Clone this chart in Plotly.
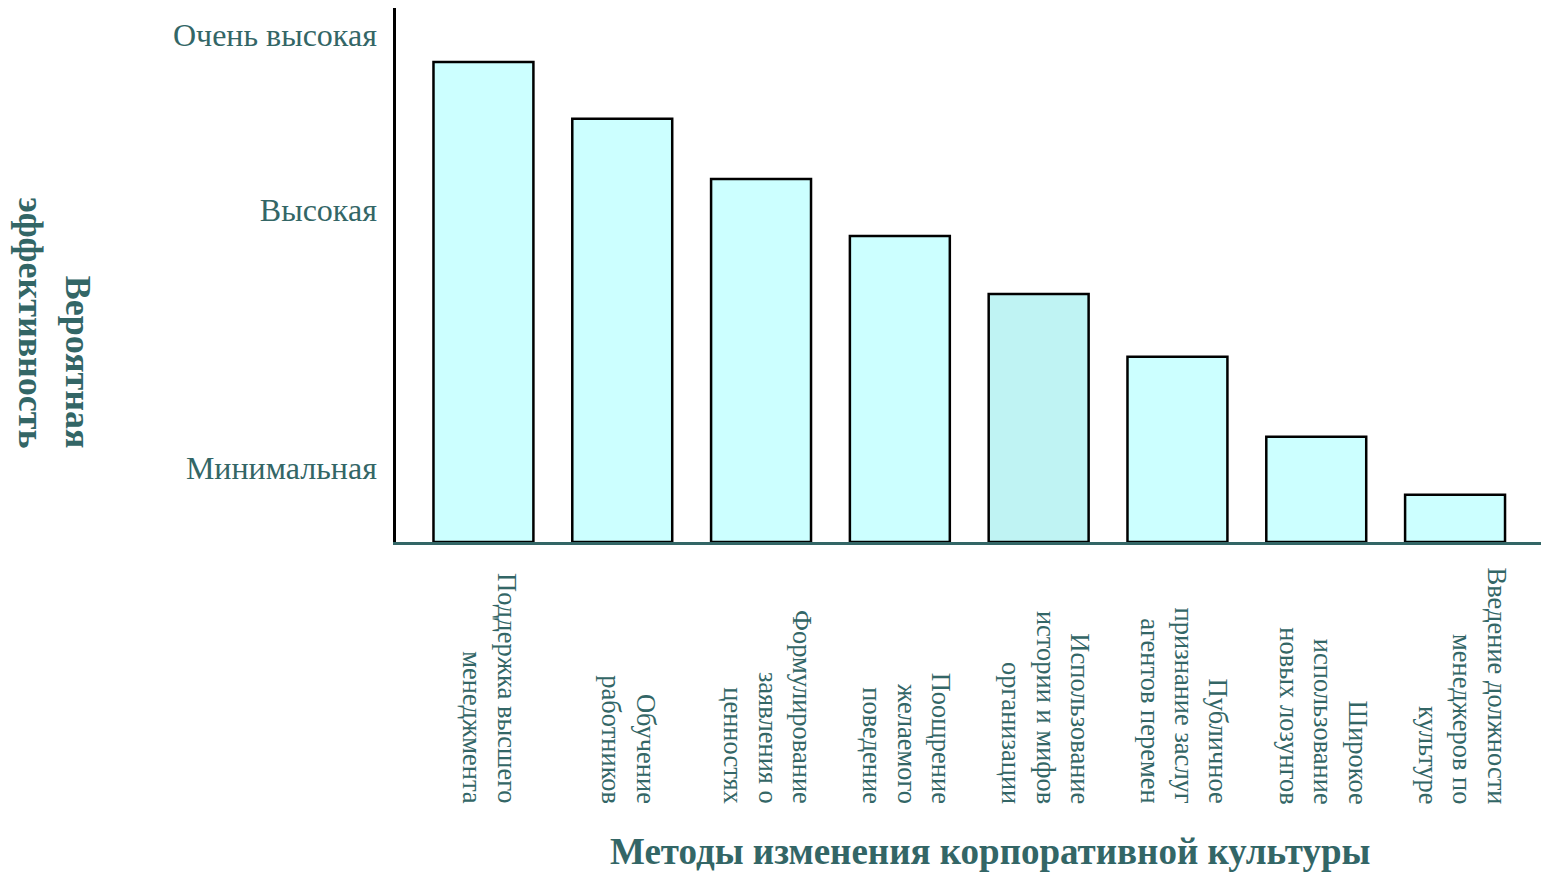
import plotly.graph_objects as go

categories = [
    "Поддержка высшего<br>менеджмента",
    "Обучение<br>работников",
    "Формулирование<br>заявления о<br>ценностях",
    "Поощрение<br>желаемого<br>поведение",
    "Использование<br>истории и мифов<br>организации",
    "Публичное<br>признание заслуг<br>агентов перемен",
    "Широкое<br>использование<br>новых лозунгов",
    "Введение должности<br>менеджеров по<br>культуре",
]
values = [89.4, 78.8, 67.6, 57.0, 46.2, 34.5, 19.6, 8.8]
bar_colors = ["#CCFFFF", "#CCFFFF", "#CCFFFF", "#CCFFFF", "#BFF3F3", "#CCFFFF", "#CCFFFF", "#CCFFFF"]
tick_vals = [13.8, 61.8, 94.4]
tick_text = ["Минимальная", "Высокая", "Очень высокая"]
x_title = "Методы изменения корпоративной культуры"
y_title = "Вероятная<br>эффективность"

TEAL = "#336666"
SERIF = "Liberation Serif, Times New Roman, serif"

x_idx = list(range(len(categories)))

fig = go.Figure()
fig.add_trace(go.Bar(
    x=x_idx, y=values,
    marker=dict(color=bar_colors, line=dict(color="black", width=2.5)),
    width=0.72,
    hoverinfo="skip",
))

annotations = []
for i, c in enumerate(categories):
    annotations.append(dict(
        x=i + 0.05, xref="x", y=-0.4944, yref="paper",
        text=c, showarrow=False, textangle=90,
        xanchor="center", yanchor="bottom", align="right",
        font=dict(family=SERIF, size=26.5, color=TEAL),
    ))
annotations.append(dict(
    x=0.5174, xref="paper", y=-0.5800, yref="paper",
    text="<b>" + x_title + "</b>", showarrow=False,
    xanchor="center", yanchor="middle",
    font=dict(family=SERIF, size=37, color=TEAL),
))
annotations.append(dict(
    x=-0.2975, xref="paper", y=0.1723, yref="paper",
    text="<b>" + y_title + "</b>", showarrow=False, textangle=90,
    xanchor="center", yanchor="bottom", align="right",
    font=dict(family=SERIF, size=36, color=TEAL),
))

fig.update_layout(
    width=1541, height=873,
    margin=dict(l=388, r=4, t=0, b=339, pad=0),
    paper_bgcolor="white", plot_bgcolor="white",
    showlegend=False,
    annotations=annotations,
    xaxis=dict(
        range=[-0.63, 7.648], showticklabels=False, showgrid=False,
        zeroline=False, showline=True, linecolor=TEAL, linewidth=2.5,
        ticks="", fixedrange=True,
    ),
    yaxis=dict(
        range=[0, 99.44], tickvals=tick_vals, ticktext=tick_text,
        showgrid=False, zeroline=False, showline=True, linecolor="black",
        linewidth=2.5, ticks="outside", ticklen=10, tickcolor="rgba(0,0,0,0)",
        tickfont=dict(family=SERIF, size=32, color=TEAL), fixedrange=True,
    ),
)

fig.write_html("out.html")
